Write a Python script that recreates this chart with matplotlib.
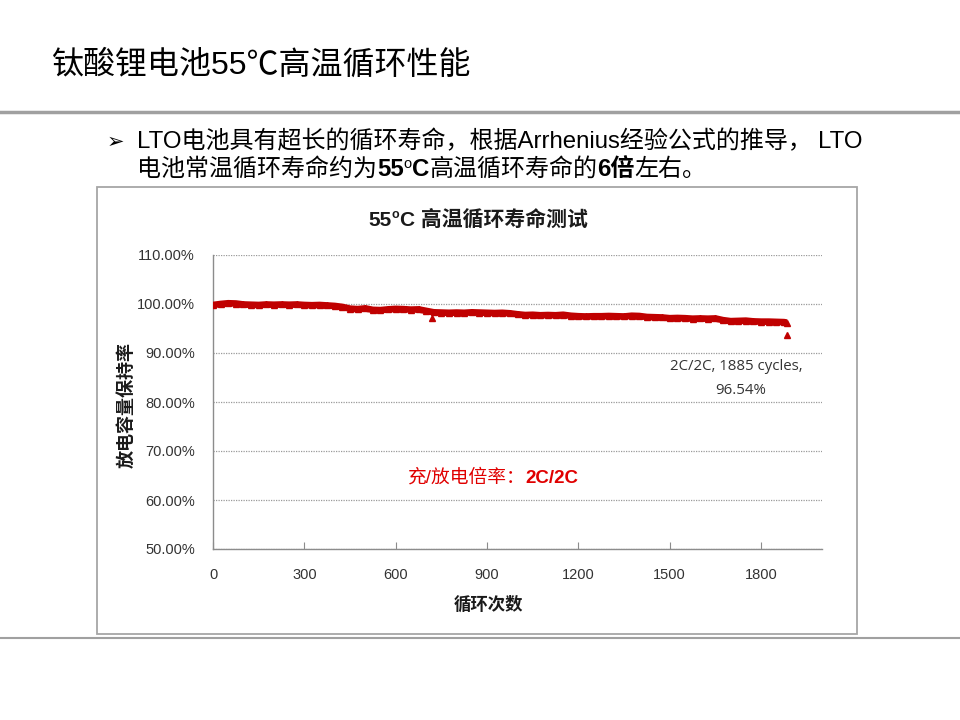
import matplotlib
matplotlib.use("Agg")
import matplotlib.pyplot as plt
from matplotlib.lines import Line2D
from matplotlib.patches import Rectangle

# ---------------- data ----------------
cycles = [0, 25, 50, 75, 100, 125, 150, 175, 200, 225, 250, 275, 300, 325, 350, 375,
          400, 425, 450, 475, 500, 525, 550, 575, 600, 625, 650, 675, 700, 725, 750,
          775, 800, 825, 850, 875, 900, 925, 950, 975, 1000, 1025, 1050, 1075, 1100,
          1125, 1150, 1175, 1200, 1225, 1250, 1275, 1300, 1325, 1350, 1375, 1400, 1425,
          1450, 1475, 1500, 1525, 1550, 1575, 1600, 1625, 1650, 1675, 1700, 1725, 1750,
          1775, 1800, 1825, 1850, 1875, 1885]
retention = [99.8, 100.0, 100.15, 100.1, 99.9, 99.85, 99.8, 99.9, 99.85, 99.9, 99.85,
             99.9, 99.8, 99.75, 99.8, 99.7, 99.6, 99.4, 99.05, 98.95, 99.1, 98.8, 98.75,
             98.9, 99.0, 98.95, 98.85, 98.9, 98.6, 98.3, 98.25, 98.2, 98.25, 98.2, 98.3,
             98.25, 98.2, 98.15, 98.2, 98.1, 97.9, 97.75, 97.8, 97.7, 97.75, 97.7, 97.8,
             97.6, 97.5, 97.45, 97.5, 97.5, 97.55, 97.5, 97.45, 97.6, 97.55, 97.35, 97.3,
             97.25, 97.1, 97.15, 97.1, 97.0, 97.05, 97.0, 97.05, 96.7, 96.5, 96.55, 96.6,
             96.45, 96.4, 96.4, 96.35, 96.3, 96.2]
outlier_cycles = [720, 1885]
outlier_values = [97.2, 93.7]
x_ticks = [0, 300, 600, 900, 1200, 1500, 1800]
y_ticks = [50, 60, 70, 80, 90, 100, 110]

W, H = 960, 720
fig = plt.figure(figsize=(9.6, 7.2), dpi=100)
fig.patch.set_facecolor("white")
renderer = fig.canvas.get_renderer()

CJK = ["Liberation Sans", "Noto Sans CJK SC", "DejaVu Sans"]


def fx(px):
    return px / W


def fy(py):
    return 1 - py / H


def seq(x_px, y_px, pieces, ha="left"):
    items = []
    for s, kw in pieces:
        kw = dict(kw)
        dy = kw.pop("dy", 0)
        kw.setdefault("family", CJK)
        t = fig.text(0, 0, s, va="baseline", ha="left", **kw)
        w = t.get_window_extent(renderer=renderer).width
        items.append((t, dy, w))
    total = sum(w for _, _, w in items)
    x = x_px - (total / 2 if ha == "center" else (total if ha == "right" else 0))
    for t, dy, w in items:
        t.set_position((fx(x), fy(y_px - dy)))
        x += w


# ---------------- slide decorations ----------------
fig.text(fx(52), fy(66), "钛酸锂电池55℃高温循环性能", family=CJK, fontsize=23,
         va="center", ha="left", color="black")
fig.add_artist(Line2D([0, 1], [fy(112), fy(112)], color="#A0A0A0", lw=2.5))
fig.add_artist(Line2D([0, 1], [fy(638), fy(638)], color="#A0A0A0", lw=1.5))

# bullet text
fig.text(fx(107), fy(148), "➢", family=["DejaVu Sans"], fontsize=15, va="baseline")
reg = dict(fontsize=17.3, color="black")
bold = dict(fontsize=17.3, color="black", weight="bold")
seq(137, 148, [("LTO电池具有超长的循环寿命，根据Arrhenius经验公式的推导，", reg)])
seq(862, 148, [("LTO", reg)], ha="right")
seq(137, 176, [("电池常温循环寿命约为", reg), ("55", bold),
               ("o", dict(fontsize=10.5, color="black", dy=8)), ("C", bold),
               ("高温循环寿命的", reg), ("6倍", bold), ("左右。", reg)])

# chart frame
fig.add_artist(Rectangle((fx(97), fy(634)), (857 - 97) / W, (634 - 187) / H,
                         transform=fig.transFigure, fill=False,
                         edgecolor="#A6A6A6", lw=1.3))

# chart title
tk = dict(fontsize=15, weight="bold", color="#1a1a1a")
seq(478, 226, [("55", tk), ("o", dict(fontsize=9, weight="bold", color="#1a1a1a", dy=8)),
               ("C 高温循环寿命测试", tk)], ha="center")

# ---------------- axes ----------------
ax = fig.add_axes([fx(213), fy(549), (822 - 213) / W, (549 - 255) / H])
ax.set_facecolor("white")
red = "#C00000"
ax.plot(cycles, retention, color=red, lw=4.8, solid_capstyle="butt",
        solid_joinstyle="round", zorder=3)
ax.plot(cycles, retention, linestyle="none", marker="^", ms=4.5, color=red, zorder=3)
ax.plot(outlier_cycles, outlier_values, linestyle="none", marker="^", ms=4,
        color=red, zorder=3)

ax.set_xlim(0, 2000)
ax.set_ylim(50, 110)
ax.set_xticks(x_ticks)
ax.set_yticks(y_ticks)
ax.set_xticklabels([str(v) for v in x_ticks])
ax.set_yticklabels([f"{v:.2f}%" for v in y_ticks])
for sp in ["top", "right"]:
    ax.spines[sp].set_visible(False)
for sp in ["left", "bottom"]:
    ax.spines[sp].set_color("#8C8C8C")
    ax.spines[sp].set_linewidth(1.0)
ax.tick_params(axis="x", direction="in", length=5, color="#8C8C8C", pad=14,
               labelsize=10.5, labelcolor="#333333")
ax.tick_params(axis="y", length=0, pad=13, labelsize=10.5, labelcolor="#333333")
for lab in ax.get_xticklabels() + ax.get_yticklabels():
    lab.set_family("Liberation Sans")
ax.yaxis.grid(True, linestyle=(0, (1, 1)), color="#9A9A9A", lw=0.9)
ax.set_axisbelow(True)

# axis titles
fig.text(fx(488), fy(604), "循环次数", family=CJK, fontsize=12.5, weight="bold",
         ha="center", va="center", color="#1a1a1a")
fig.text(fx(127), fy(405), "放电容量保持率", family=CJK, fontsize=13, weight="bold",
         ha="center", va="center", rotation=90, color="#1a1a1a")

# annotations
fig.text(fx(736), fy(367), "2C/2C, 1885 cycles,", family=["Open Sans"], fontsize=10.8,
         ha="center", va="center", color="#333333")
fig.text(fx(741), fy(390), "96.54%", family=["Open Sans"], fontsize=10.8,
         ha="center", va="center", color="#333333")

rk = dict(fontsize=13.5, color="#E00000")
seq(408, 483, [("充/放电倍率：", rk), ("2C/2C", dict(fontsize=13.5, color="#E00000",
                                                   weight="bold"))])

fig.savefig("out.png", dpi=100, facecolor="white")
